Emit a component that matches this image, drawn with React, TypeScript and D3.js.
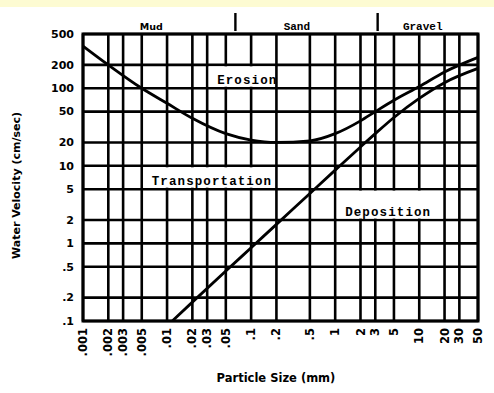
import React from 'react';
import * as d3 from 'd3';

// Hjulström-style diagram: particle size (mm) vs water velocity (cm/sec)
const xTicks = [0.001, 0.002, 0.003, 0.005, 0.01, 0.02, 0.03, 0.05, 0.1, 0.2, 0.5, 1, 2, 3, 5, 10, 20, 30, 50];
const xTickLabels = ['.001', '.002', '.003', '.005', '.01', '.02', '.03', '.05', '.1', '.2', '.5', '1', '2', '3', '5', '10', '20', '30', '50'];
const yTicks = [0.1, 0.2, 0.5, 1, 2, 5, 10, 20, 50, 100, 200, 500];
const yTickLabels = ['.1', '.2', '.5', '1', '2', '5', '10', '20', '50', '100', '200', '500'];

const erosionSize = [0.001, 0.002, 0.005, 0.01, 0.02, 0.05, 0.1, 0.2, 0.5, 1, 2, 3, 5, 10, 20, 50];
const erosionVelocity = [350, 200, 100, 64, 41, 26, 21.5, 20, 21, 26, 38, 50, 70, 105, 162, 250];

const depositionSize = [0.0115, 0.02, 0.05, 0.1, 0.2, 0.5, 1, 2, 3, 5, 10, 20, 50];
const depositionVelocity = [0.1, 0.175, 0.44, 0.88, 1.76, 4.4, 8.8, 17.5, 26, 42, 74, 118, 180];

// zone labels sit in cells of the grid: [x0, x1, y0, y1]
const zoneNames = ['Erosion', 'Transportation', 'Deposition'];
const zoneCells = [
  [0.03, 0.2, 100, 200],
  [0.005, 0.2, 5, 10],
  [1, 20, 2, 5],
];

const classNames = ['Mud', 'Sand', 'Gravel'];
const classCenters = [0.0065, 0.35, 11];
const classBreaks = [0.065, 3.2];

const width = 494;
const height = 393;
const margin = { left: 83, right: 16, top: 34, bottom: 72 };

export default function App() {
  const x = d3.scaleLog().domain([0.001, 50]).range([margin.left, width - margin.right]);
  const y = d3.scaleLog().domain([0.1, 500]).range([height - margin.bottom, margin.top]);

  const line = d3
    .line<[number, number]>()
    .x((d) => x(d[0]))
    .y((d) => y(d[1]))
    .curve(d3.curveMonotoneX);

  const erosion = line(erosionSize.map((s, i) => [s, erosionVelocity[i]]));
  const deposition = line(depositionSize.map((s, i) => [s, depositionVelocity[i]]));

  const sans = 'DejaVu Sans, Arial, sans-serif';
  const mono = 'Liberation Mono, Courier New, monospace';
  const [x0, x1] = x.range();
  const [y0, y1] = y.range();

  return (
    <svg
      width={width}
      height={height}
      style={{ position: 'absolute', left: 0, top: 0, background: '#fff' }}
    >
      <rect x={0} y={0} width={width} height={7} fill="#fdfbd2" />

      {/* grid */}
      <g stroke="#000" strokeWidth={2.6}>
        {xTicks.map((t) => (
          <line key={'gx' + t} x1={x(t)} x2={x(t)} y1={y1} y2={y0} />
        ))}
        {yTicks.map((t) => (
          <line key={'gy' + t} x1={x0} x2={x1} y1={y(t)} y2={y(t)} />
        ))}
      </g>

      {/* white label cells */}
      {zoneCells.map((c, i) => (
        <rect
          key={'cell' + i}
          x={x(c[0]) + 1.5}
          y={y(c[3]) + 1.5}
          width={x(c[1]) - x(c[0]) - 3}
          height={y(c[2]) - y(c[3]) - 3}
          fill="#fff"
        />
      ))}
      {zoneNames.map((name, i) => (
        <text
          key={name}
          x={x(zoneCells[i][0]) + 10}
          y={y(zoneCells[i][2]) - 4.5}
          fontFamily={mono}
          fontWeight="bold"
          fontSize={12.5}
          letterSpacing={1.1}
          fill="#000"
        >
          {name}
        </text>
      ))}

      <path d={erosion ?? ''} fill="none" stroke="#000" strokeWidth={2.8} />
      <path d={deposition ?? ''} fill="none" stroke="#000" strokeWidth={2.8} />

      <rect x={x0} y={y1} width={x1 - x0} height={y0 - y1} fill="none" stroke="#000" strokeWidth={3} />

      {/* y ticks */}
      {yTicks.map((t, i) => (
        <text
          key={'yl' + t}
          x={x0 - 9}
          y={y(t)}
          dy="0.35em"
          textAnchor="end"
          fontFamily={sans}
          fontWeight="bold"
          fontSize={11}
          fill="#000"
        >
          {yTickLabels[i]}
        </text>
      ))}

      {/* x ticks, rotated */}
      {xTicks.map((t, i) => (
        <text
          key={'xl' + t}
          transform={`translate(${x(t)},${y0 + 7}) rotate(-90)`}
          dy="0.35em"
          textAnchor="end"
          fontFamily={sans}
          fontWeight="bold"
          fontSize={11.5}
          fill="#000"
        >
          {xTickLabels[i]}
        </text>
      ))}

      {/* size classes */}
      {classNames.map((name, i) => (
        <text
          key={name}
          x={x(classCenters[i])}
          y={30}
          textAnchor="middle"
          fontFamily={i === 0 ? sans : mono}
          fontWeight="bold"
          fontSize={i === 0 ? 9.5 : 11}
          fill="#000"
        >
          {name}
        </text>
      ))}
      {classBreaks.map((b) => (
        <line key={'cb' + b} x1={x(b)} x2={x(b)} y1={13} y2={31} stroke="#000" strokeWidth={2.4} />
      ))}

      <text
        x={276}
        y={382}
        textAnchor="middle"
        fontFamily={sans}
        fontWeight="bold"
        fontSize={11.5}
        fill="#000"
      >
        Particle Size (mm)
      </text>
      <text
        transform={`translate(20,${(y0 + y1) / 2 + 8}) rotate(-90)`}
        textAnchor="middle"
        fontFamily={sans}
        fontWeight="bold"
        fontSize={11}
        fill="#000"
      >
        Water Velocity (cm/sec)
      </text>
    </svg>
  );
}
